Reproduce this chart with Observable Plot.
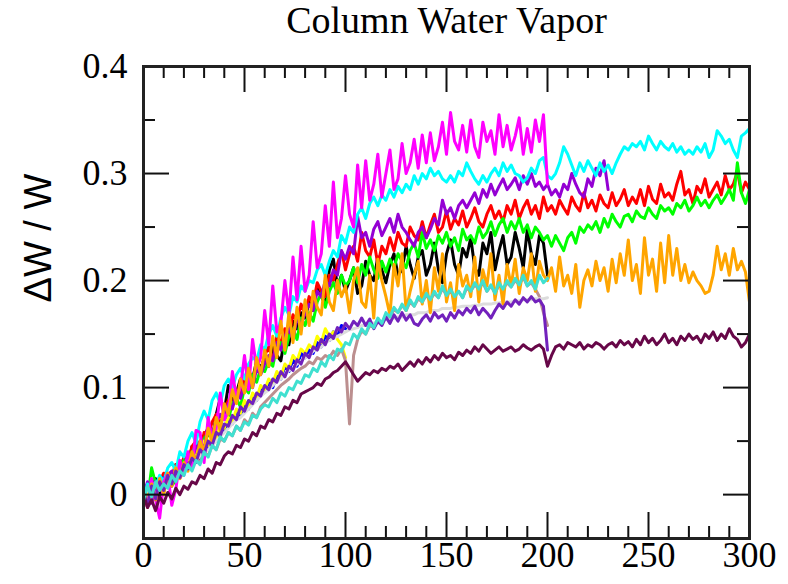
<!DOCTYPE html>
<html>
<head>
<meta charset="utf-8">
<script src="https://cdn.jsdelivr.net/npm/d3@7"></script>
<script src="https://cdn.jsdelivr.net/npm/@observablehq/plot@0.6"></script>
<style>
  body { margin: 0; background: #fff; }
  #chart svg { display: block; }
</style>
</head>
<body>
<div id="chart"></div>
<script>
// Relative change of column water vapor, sampled every 2 time units.
const STEP = 2;

const black = [
  0.005, -0.008, 0.012, 0.015, -0.002, 0.01, 0.018, 0.008, 0.028, 0.02, 0.035,
  0.025, 0.045, 0.04, 0.03, 0.055, 0.062, 0.05, 0.075, 0.09, 0.078,
  0.102, 0.088, 0.095, 0.108, 0.1, 0.115, 0.108, 0.125, 0.118, 0.128,
  0.12, 0.138, 0.13, 0.125, 0.148, 0.14, 0.162, 0.155, 0.17, 0.165,
  0.18, 0.172, 0.195, 0.185, 0.178, 0.21, 0.22, 0.195, 0.205, 0.19,
  0.2, 0.212, 0.188, 0.195, 0.218, 0.205, 0.2, 0.222, 0.21, 0.198,
  0.215, 0.225, 0.205, 0.21, 0.232, 0.215, 0.202, 0.222, 0.228, 0.205,
  0.215, 0.235, 0.21, 0.198, 0.225, 0.238, 0.215, 0.205, 0.23, 0.222,
  0.24, 0.212, 0.205, 0.235, 0.225, 0.245, 0.21, 0.228, 0.242, 0.215,
  0.222, 0.245, 0.23, 0.212, 0.248, 0.225, 0.215, 0.242, 0.235, 0.205
];

const red = [
  0.0, 0.01, 0.004, -0.005, 0.012, 0.02, 0.01, 0.018, 0.028, 0.022, 0.035,
  0.03, 0.045, 0.05, 0.04, 0.058, 0.055, 0.068, 0.075, 0.065, 0.08,
  0.088, 0.082, 0.098, 0.092, 0.108, 0.118, 0.105, 0.122, 0.115, 0.13,
  0.138, 0.125, 0.148, 0.142, 0.155, 0.148, 0.168, 0.162, 0.178, 0.168,
  0.185, 0.178, 0.198, 0.19, 0.185, 0.205, 0.2, 0.215, 0.228, 0.21,
  0.225, 0.232, 0.218, 0.245, 0.228, 0.222, 0.238, 0.215, 0.232, 0.225,
  0.24, 0.228, 0.245, 0.235, 0.232, 0.25, 0.242, 0.238, 0.255, 0.24,
  0.252, 0.262, 0.245, 0.25, 0.265, 0.248, 0.258, 0.252, 0.265, 0.25,
  0.258, 0.268, 0.255, 0.25, 0.262, 0.27, 0.258, 0.265, 0.255, 0.27,
  0.262, 0.275, 0.258, 0.268, 0.275, 0.262, 0.27, 0.258, 0.278, 0.265,
  0.27, 0.262, 0.275, 0.268, 0.262, 0.278, 0.27, 0.265, 0.282, 0.268,
  0.275, 0.265, 0.28, 0.272, 0.268, 0.282, 0.27, 0.276, 0.285, 0.27,
  0.278, 0.272, 0.285, 0.27, 0.288, 0.276, 0.272, 0.29, 0.278, 0.282,
  0.275, 0.29, 0.302, 0.28, 0.285, 0.272, 0.288, 0.282, 0.295, 0.278,
  0.285, 0.292, 0.28, 0.298, 0.285, 0.29, 0.302, 0.282, 0.292, 0.285
];

const green = [
  0.005, -0.005, 0.025, 0.01, 0.012, 0.002, 0.02, 0.015, 0.01, 0.028, 0.032,
  0.025, 0.04, 0.045, 0.035, 0.052, 0.058, 0.05, 0.068, 0.065, 0.075,
  0.07, 0.085, 0.09, 0.082, 0.1, 0.095, 0.112, 0.105, 0.118, 0.115,
  0.125, 0.12, 0.138, 0.142, 0.132, 0.148, 0.155, 0.145, 0.165, 0.158,
  0.17, 0.162, 0.18, 0.188, 0.175, 0.19, 0.198, 0.188, 0.205, 0.195,
  0.2, 0.212, 0.198, 0.215, 0.205, 0.222, 0.21, 0.202, 0.218, 0.208,
  0.22, 0.212, 0.225, 0.218, 0.212, 0.228, 0.235, 0.222, 0.245, 0.23,
  0.238, 0.228, 0.242, 0.235, 0.245, 0.232, 0.24, 0.228, 0.248, 0.238,
  0.242, 0.235, 0.25, 0.24, 0.245, 0.255, 0.242, 0.252, 0.258, 0.245,
  0.255, 0.248, 0.258, 0.245, 0.252, 0.24, 0.25, 0.245, 0.238, 0.242,
  0.232, 0.242, 0.235, 0.228, 0.24, 0.245, 0.235, 0.25, 0.245, 0.252,
  0.248, 0.255, 0.245, 0.258, 0.25, 0.262, 0.255, 0.25, 0.26, 0.262,
  0.255, 0.265, 0.26, 0.258, 0.268, 0.262, 0.258, 0.27, 0.265, 0.268,
  0.262, 0.272, 0.268, 0.275, 0.265, 0.27, 0.278, 0.27, 0.275, 0.268,
  0.275, 0.28, 0.272, 0.278, 0.285, 0.275, 0.31, 0.282, 0.272, 0.285
];

const blue = [
  0.0, 0.008, -0.004, 0.012, 0.004, 0.016, 0.01, 0.02, 0.015, 0.028, 0.024,
  0.032, 0.028, 0.04, 0.036, 0.048, 0.044, 0.056, 0.05, 0.064, 0.06,
  0.07, 0.066, 0.078, 0.074, 0.085, 0.08, 0.092, 0.088, 0.1, 0.096,
  0.105, 0.1, 0.112, 0.108, 0.12, 0.115, 0.126, 0.12, 0.132, 0.128,
  0.135, 0.132, 0.142, 0.138, 0.148, 0.144, 0.152, 0.148, 0.158, 0.155
];

const yellow = [
  0.005, -0.002, 0.01, 0.004, 0.014, 0.008, 0.018, 0.014, 0.024, 0.02, 0.028,
  0.034, 0.03, 0.042, 0.038, 0.05, 0.046, 0.058, 0.052, 0.066, 0.062,
  0.072, 0.068, 0.08, 0.076, 0.088, 0.082, 0.095, 0.09, 0.102, 0.098,
  0.108, 0.104, 0.115, 0.11, 0.122, 0.118, 0.13, 0.125, 0.136, 0.132,
  0.14, 0.136, 0.148, 0.142, 0.155, 0.148, 0.152, 0.145, 0.14, 0.128
];

const brown = [
  0.002, -0.006, 0.008, 0.0, 0.01, 0.004, 0.014, 0.01, 0.018, 0.015, 0.022,
  0.028, 0.024, 0.034, 0.03, 0.04, 0.036, 0.046, 0.042, 0.052, 0.05,
  0.058, 0.055, 0.064, 0.06, 0.07, 0.066, 0.076, 0.072, 0.082, 0.086,
  0.09, 0.094, 0.098, 0.102, 0.105, 0.108, 0.112, 0.115, 0.118, 0.12,
  0.124, 0.122, 0.128, 0.126, 0.13, 0.128, 0.134, 0.13, 0.136, 0.125,
  0.066, 0.13, 0.145, 0.153, 0.15, 0.158, 0.156, 0.163, 0.16, 0.168,
  0.166, 0.173, 0.17, 0.177, 0.172, 0.18, 0.176, 0.183, 0.18, 0.186,
  0.182, 0.188, 0.184, 0.193, 0.186, 0.19, 0.185, 0.19, 0.184, 0.193,
  0.19, 0.196, 0.192, 0.198, 0.19, 0.195, 0.188, 0.196, 0.192, 0.198,
  0.194, 0.2, 0.196, 0.203, 0.195, 0.198, 0.192, 0.185, 0.17, 0.158
];

const grey = [
  0.0, 0.004, 0.002, 0.008, 0.006, 0.012, 0.01, 0.016, 0.014, 0.02, 0.022,
  0.026, 0.03, 0.032, 0.036, 0.04, 0.042, 0.046, 0.05, 0.054, 0.058,
  0.062, 0.066, 0.07, 0.072, 0.076, 0.08, 0.084, 0.088, 0.092, 0.095,
  0.098, 0.102, 0.106, 0.108, 0.112, 0.116, 0.118, 0.122, 0.125, 0.128,
  0.13, 0.134, 0.136, 0.138, 0.142, 0.144, 0.146, 0.148, 0.15, 0.152,
  0.154, 0.155, 0.156, 0.158, 0.158, 0.16, 0.16, 0.162, 0.162, 0.164,
  0.164, 0.165, 0.166, 0.166, 0.168, 0.168, 0.168, 0.17, 0.17, 0.17,
  0.172, 0.172, 0.172, 0.174, 0.174, 0.174, 0.175, 0.175, 0.176, 0.176,
  0.176, 0.177, 0.177, 0.178, 0.178, 0.178, 0.179, 0.179, 0.18, 0.18,
  0.18, 0.181, 0.181, 0.182, 0.182, 0.182, 0.183, 0.183, 0.183, 0.184
];

const violet = [
  0.0, 0.012, -0.008, 0.005, 0.015, 0.004, 0.018, 0.022, 0.012, 0.03, 0.025,
  0.038, 0.032, 0.045, 0.05, 0.042, 0.062, 0.058, 0.068, 0.075, 0.07,
  0.085, 0.08, 0.095, 0.09, 0.102, 0.108, 0.1, 0.118, 0.112, 0.122,
  0.13, 0.125, 0.142, 0.135, 0.148, 0.155, 0.145, 0.165, 0.158, 0.17,
  0.178, 0.172, 0.19, 0.185, 0.2, 0.195, 0.21, 0.205, 0.228, 0.22,
  0.232, 0.225, 0.26, 0.24, 0.245, 0.232, 0.248, 0.255, 0.242, 0.25,
  0.258, 0.245, 0.262, 0.25, 0.245, 0.238, 0.232, 0.245, 0.25, 0.24,
  0.248, 0.258, 0.252, 0.275, 0.262, 0.268, 0.258, 0.27, 0.275, 0.268,
  0.275, 0.282, 0.272, 0.285, 0.278, 0.29, 0.28, 0.288, 0.295, 0.285,
  0.29, 0.296, 0.285, 0.298, 0.29, 0.3, 0.288, 0.292, 0.285, 0.29,
  0.28, 0.285, 0.278, 0.29, 0.285, 0.3, 0.29, 0.282, 0.278, 0.295,
  0.288, 0.305, 0.298, 0.312, 0.285
];

const cyan = [
  -0.005, 0.01, 0.002, 0.008, 0.018, 0.012, 0.025, 0.03, 0.022, 0.04, 0.035,
  0.05, 0.058, 0.048, 0.068, 0.078, 0.07, 0.088, 0.095, 0.085, 0.102,
  0.108, 0.1, 0.112, 0.118, 0.108, 0.122, 0.128, 0.125, 0.14, 0.135,
  0.15, 0.158, 0.148, 0.165, 0.175, 0.168, 0.185, 0.18, 0.195, 0.19,
  0.2, 0.198, 0.21, 0.215, 0.205, 0.218, 0.228, 0.222, 0.242, 0.235,
  0.25, 0.245, 0.262, 0.268, 0.258, 0.272, 0.278, 0.27, 0.28, 0.275,
  0.285, 0.278, 0.288, 0.282, 0.29, 0.285, 0.298, 0.29, 0.3, 0.295,
  0.305, 0.298, 0.302, 0.295, 0.292, 0.298, 0.292, 0.302, 0.298, 0.31,
  0.302, 0.295, 0.29, 0.298, 0.292, 0.3, 0.305, 0.298, 0.31, 0.302,
  0.308, 0.3, 0.298, 0.292, 0.296, 0.305, 0.3, 0.312, 0.315, 0.298,
  0.295, 0.3, 0.31, 0.325, 0.318, 0.308, 0.298, 0.31, 0.302, 0.312,
  0.305, 0.298, 0.31, 0.302, 0.308, 0.3, 0.31, 0.318, 0.325, 0.322,
  0.328, 0.325, 0.33, 0.322, 0.335, 0.328, 0.322, 0.33, 0.325, 0.322,
  0.328, 0.32, 0.325, 0.318, 0.322, 0.318, 0.325, 0.32, 0.328, 0.315,
  0.322, 0.34, 0.335, 0.328, 0.332, 0.322, 0.315, 0.335, 0.338, 0.342
];

const magenta = [
  0.0, -0.012, 0.015, -0.005, -0.022, 0.012, 0.02, -0.01, 0.005, 0.032, 0.018,
  0.04, 0.025, 0.06, 0.058, 0.03, 0.072, 0.05, 0.062, 0.095, 0.07,
  0.078, 0.115, 0.09, 0.1, 0.13, 0.098, 0.145, 0.118, 0.128, 0.172,
  0.14, 0.195, 0.152, 0.16, 0.2, 0.168, 0.222, 0.182, 0.232, 0.19,
  0.205, 0.255, 0.212, 0.225, 0.27, 0.232, 0.292, 0.24, 0.258, 0.298,
  0.262, 0.25, 0.308, 0.268, 0.312, 0.275, 0.29, 0.318, 0.278, 0.3,
  0.322, 0.285, 0.295, 0.328, 0.3, 0.31, 0.332, 0.305, 0.336, 0.31,
  0.338, 0.312, 0.325, 0.348, 0.318, 0.357, 0.33, 0.322, 0.345, 0.32,
  0.35, 0.325, 0.315, 0.348, 0.33, 0.34, 0.318, 0.355, 0.325, 0.345,
  0.322, 0.335, 0.352, 0.318, 0.342, 0.32, 0.35, 0.33, 0.355, 0.29
];

const orange = [
  0.005, -0.012, 0.01, -0.005, 0.015, 0.0, 0.02, 0.008, 0.025, 0.015, 0.03,
  0.022, 0.04, 0.03, 0.05, 0.04, 0.062, 0.05, 0.072, 0.06, 0.085,
  0.075, 0.098, 0.085, 0.108, 0.095, 0.118, 0.1, 0.128, 0.112, 0.135,
  0.12, 0.148, 0.128, 0.162, 0.135, 0.17, 0.142, 0.175, 0.15, 0.182,
  0.158, 0.19, 0.175, 0.168, 0.205, 0.18, 0.172, 0.2, 0.185, 0.195,
  0.17, 0.2, 0.212, 0.18, 0.175, 0.205, 0.165, 0.22, 0.2, 0.185,
  0.168, 0.215, 0.195, 0.225, 0.172, 0.19, 0.205, 0.218, 0.178, 0.2,
  0.17, 0.212, 0.19, 0.225, 0.18, 0.198, 0.172, 0.215, 0.195, 0.205,
  0.185, 0.222, 0.18, 0.21, 0.195, 0.225, 0.182, 0.205, 0.178, 0.215,
  0.195, 0.22, 0.188, 0.212, 0.2, 0.225, 0.19, 0.218, 0.205, 0.2,
  0.212, 0.19, 0.222, 0.195, 0.205, 0.188, 0.215, 0.175, 0.2, 0.21,
  0.195, 0.218, 0.2, 0.212, 0.19, 0.22, 0.198, 0.225, 0.205, 0.238,
  0.2, 0.215, 0.188, 0.24, 0.205, 0.22, 0.19, 0.235, 0.198, 0.242,
  0.205, 0.23, 0.2, 0.215, 0.198, 0.208, 0.2, 0.195, 0.188, 0.19,
  0.205, 0.232, 0.21, 0.225, 0.205, 0.23, 0.21, 0.218, 0.208, 0.18
];

const indigo = [
  0.002, -0.01, 0.008, -0.004, 0.012, 0.004, 0.018, 0.01, 0.022, 0.016, 0.028,
  0.024, 0.034, 0.03, 0.042, 0.038, 0.05, 0.046, 0.058, 0.055, 0.066,
  0.064, 0.074, 0.07, 0.082, 0.078, 0.088, 0.085, 0.095, 0.092, 0.102,
  0.098, 0.108, 0.105, 0.115, 0.11, 0.12, 0.116, 0.126, 0.122, 0.132,
  0.128, 0.138, 0.135, 0.145, 0.14, 0.15, 0.146, 0.156, 0.152, 0.16,
  0.155, 0.162, 0.158, 0.165, 0.158, 0.164, 0.155, 0.162, 0.158, 0.166,
  0.16, 0.168, 0.162, 0.17, 0.163, 0.168, 0.16, 0.158, 0.164, 0.168,
  0.162, 0.17, 0.165, 0.168, 0.162, 0.17, 0.165, 0.172, 0.168, 0.174,
  0.17, 0.176, 0.168, 0.174, 0.17, 0.165, 0.172, 0.178, 0.174, 0.18,
  0.176, 0.182, 0.178, 0.184, 0.18, 0.185, 0.18, 0.182, 0.176, 0.135
];

const maroon = [
  0.0, -0.012, -0.005, -0.015, -0.002, -0.008, 0.002, -0.004, 0.006, 0.0, 0.008,
  0.005, 0.012, 0.01, 0.018, 0.015, 0.024, 0.02, 0.03, 0.028, 0.036,
  0.04, 0.038, 0.046, 0.044, 0.052, 0.05, 0.058, 0.055, 0.064, 0.062,
  0.07, 0.068, 0.076, 0.074, 0.082, 0.08, 0.088, 0.086, 0.094, 0.096,
  0.098, 0.1, 0.104, 0.102, 0.108, 0.11, 0.114, 0.116, 0.12, 0.124,
  0.118, 0.112, 0.106, 0.11, 0.114, 0.112, 0.116, 0.114, 0.118, 0.116,
  0.12, 0.118, 0.122, 0.116, 0.12, 0.124, 0.12, 0.126, 0.122, 0.128,
  0.124, 0.13, 0.126, 0.132, 0.128, 0.13, 0.126, 0.133, 0.13, 0.135,
  0.132, 0.138, 0.134, 0.14, 0.136, 0.132, 0.135, 0.138, 0.134, 0.136,
  0.138, 0.134, 0.136, 0.14, 0.137, 0.135, 0.138, 0.14, 0.136, 0.12,
  0.13, 0.138, 0.14, 0.136, 0.142, 0.14, 0.138, 0.142, 0.136, 0.14,
  0.138, 0.142, 0.14, 0.136, 0.14, 0.142, 0.138, 0.144, 0.14, 0.143,
  0.138, 0.145, 0.14, 0.148, 0.142, 0.146, 0.14, 0.144, 0.15, 0.142,
  0.146, 0.14, 0.148, 0.144, 0.15, 0.145, 0.148, 0.142, 0.15, 0.146,
  0.152, 0.144, 0.15, 0.146, 0.155, 0.148, 0.145, 0.138, 0.142, 0.15
];

const turquoise = [
  -0.005, 0.008, -0.002, 0.012, 0.004, 0.01, 0.006, 0.018, 0.012, 0.022, 0.018,
  0.028, 0.022, 0.032, 0.028, 0.04, 0.035, 0.046, 0.042, 0.054, 0.05,
  0.058, 0.055, 0.064, 0.06, 0.068, 0.065, 0.074, 0.072, 0.08, 0.084,
  0.082, 0.09, 0.086, 0.095, 0.092, 0.1, 0.098, 0.106, 0.104, 0.112,
  0.11, 0.118, 0.115, 0.124, 0.12, 0.13, 0.126, 0.136, 0.134, 0.142,
  0.14, 0.15, 0.146, 0.155, 0.15, 0.16, 0.156, 0.165, 0.16, 0.17,
  0.166, 0.175, 0.17, 0.178, 0.172, 0.182, 0.176, 0.185, 0.18, 0.188,
  0.182, 0.19, 0.184, 0.195, 0.186, 0.192, 0.185, 0.19, 0.184, 0.195,
  0.19, 0.198, 0.192, 0.2, 0.19, 0.196, 0.188, 0.198, 0.192, 0.2,
  0.194, 0.202, 0.196, 0.205, 0.195, 0.2, 0.192, 0.205, 0.198, 0.202
];

// Drawing order: later series sit on top.
const series = [
  { name: "black",     color: "#000000", values: black },
  { name: "red",       color: "#ff0000", values: red },
  { name: "green",     color: "#00ff00", values: green },
  { name: "blue",      color: "#0000ff", values: blue },
  { name: "yellow",    color: "#ffff00", values: yellow },
  { name: "brown",     color: "#bc8f8f", values: brown },
  { name: "grey",      color: "#dcdcdc", values: grey },
  { name: "violet",    color: "#9400d3", values: violet },
  { name: "cyan",      color: "#00ffff", values: cyan },
  { name: "magenta",   color: "#ff00ff", values: magenta },
  { name: "orange",    color: "#ffa500", values: orange },
  { name: "indigo",    color: "#7221bc", values: indigo },
  { name: "maroon",    color: "#670748", values: maroon },
  { name: "turquoise", color: "#40e0d0", values: turquoise }
];

const xMajor = [0, 50, 100, 150, 200, 250, 300];
const xMinor = d3.range(10, 300, 10).filter(v => v % 50 !== 0);
const yMajor = [0, 0.1, 0.2, 0.3, 0.4];
const yMinor = [0.05, 0.15, 0.25, 0.35];

const W = 788, H = 584;
const mt = 66, mb = 46, ml = 143, mr = 39;
const fw = W - ml - mr, fh = H - mt - mb;
const MAJOR = 26, MINOR = 12;
const serif = "'Liberation Serif', 'Times New Roman', serif";
const tickStyle = { stroke: "#111", strokeWidth: 2 };

const lines = series.map(s =>
  Plot.line(s.values.map((v, i) => ({ x: i * STEP, y: v })), {
    x: "x", y: "y", stroke: s.color, strokeWidth: 3, strokeLinejoin: "round"
  })
);

const chart = Plot.plot({
  width: W,
  height: H,
  marginTop: mt,
  marginBottom: mb,
  marginLeft: ml,
  marginRight: mr,
  style: { background: "#fff", fontFamily: serif },
  x: { domain: [0, 300] },
  y: { domain: [-0.041, 0.4] },
  marks: [
    ...lines,
    // inward tick marks on all four sides
    Plot.ruleX(xMajor, { x: d => d, insetTop: fh - MAJOR, ...tickStyle }),
    Plot.ruleX(xMinor, { x: d => d, insetTop: fh - MINOR, ...tickStyle }),
    Plot.ruleX(xMajor, { x: d => d, insetBottom: fh - MAJOR, ...tickStyle }),
    Plot.ruleX(xMinor, { x: d => d, insetBottom: fh - MINOR, ...tickStyle }),
    Plot.ruleY(yMajor, { y: d => d, insetRight: fw - MAJOR, ...tickStyle }),
    Plot.ruleY(yMinor, { y: d => d, insetRight: fw - MINOR, ...tickStyle }),
    Plot.ruleY(yMajor, { y: d => d, insetLeft: fw - MAJOR, ...tickStyle }),
    Plot.ruleY(yMinor, { y: d => d, insetLeft: fw - MINOR, ...tickStyle }),
    Plot.frame({ stroke: "#222", strokeWidth: 3 }),
    Plot.axisX(xMajor, {
      tickSize: 0, tickPadding: 3, fontSize: 36, fontFamily: serif,
      fill: "#000", label: null, tickFormat: d => String(d)
    }),
    Plot.axisY(yMajor, {
      tickSize: 0, tickPadding: 16, fontSize: 36, fontFamily: serif,
      fill: "#000", label: null, tickFormat: d => String(d)
    }),
    Plot.text(["Column Water Vapor"], {
      text: d => d, frameAnchor: "top", dy: -46, fontSize: 38,
      fontFamily: serif, fill: "#000", lineAnchor: "middle"
    }),
    Plot.text(["\u0394W / W"], {
      text: d => d, frameAnchor: "left", dx: -105, rotate: -90, fontSize: 38,
      fontFamily: "'Liberation Sans', Arial, sans-serif", fill: "#000", lineAnchor: "middle"
    })
  ]
});

document.getElementById("chart").append(chart);
</script>
</body>
</html>
